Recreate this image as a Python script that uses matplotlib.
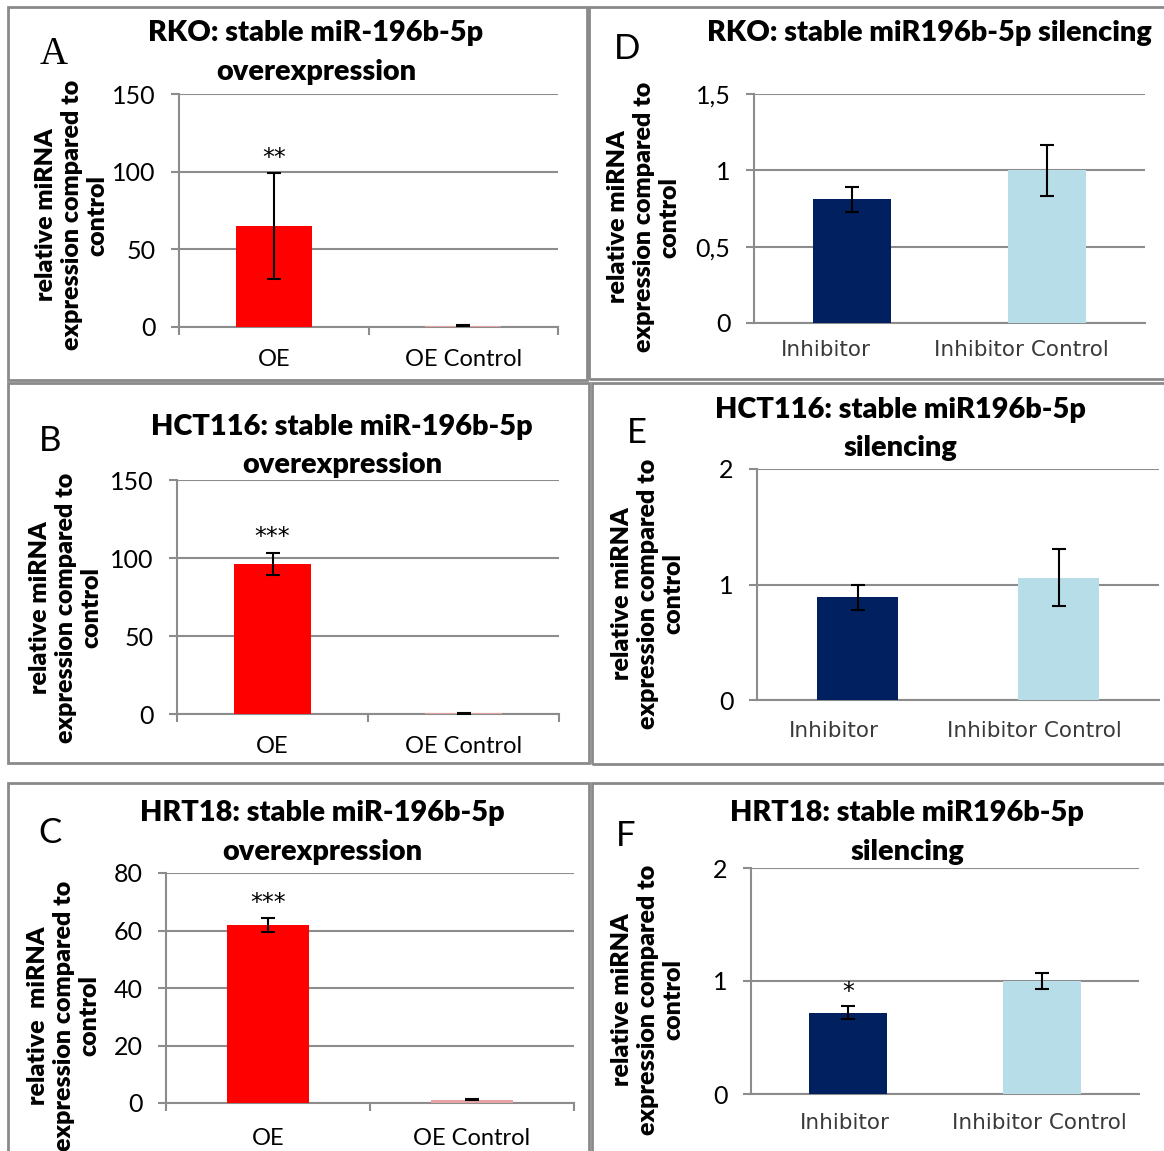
import matplotlib
matplotlib.use('Agg')
import matplotlib.pyplot as plt
from matplotlib.patches import Rectangle
from matplotlib.transforms import Affine2D

W, H = 1164, 1151

# categories
oe_groups = ['OE', 'OE Control']
inh_groups = ['Inhibitor', 'Inhibitor Control']

# overexpression panels (A, B, C)
rko_oe = [64.9, 0.9]
rko_oe_err = [34.3, 0.3]
hct_oe = [96.2, 0.6]
hct_oe_err = [7.3, 0.3]
hrt_oe = [61.9, 1.2]
hrt_oe_err = [2.5, 0.3]

# silencing panels (D, E, F)
rko_inh = [0.81, 1.0]
rko_inh_err = [0.08, 0.166]
hct_inh = [0.89, 1.06]
hct_inh_err = [0.11, 0.245]
hrt_inh = [0.72, 1.0]
hrt_inh_err = [0.055, 0.075]

# significance marks
rko_oe_sig = ['**', '']
hct_oe_sig = ['***', '']
hrt_oe_sig = ['***', '']
hrt_inh_sig = ['*', '']

ylab = 'relative miRNA\nexpression compared to\ncontrol'
ylab_c = 'relative  miRNA\nexpression compared to\ncontrol'

OE_COLORS = ['#ff0000', '#e6a3a3']
INH_COLORS = ['#002060', '#b7dde8']
GRID = '#8c8c8c'
BOX = '#8a8a8a'

plt.rcParams['font.family'] = ['Lato', 'DejaVu Sans']

fig = plt.figure(figsize=(W / 100, H / 100), dpi=100)


def fx(x):
    return x / W


def fy(y):
    return 1 - y / H


def add_box(l, t, r, b):
    fig.add_artist(Rectangle((fx(l), fy(b)), fx(r - l), (b - t) / H, transform=fig.transFigure,
                             fill=False, edgecolor=BOX, linewidth=2, clip_on=False))


def draw_panel(pos, vals, errs, groups, colors, ymax, yticks, yticklabels, kind, sig, xpad, xshift=0):
    l, t, r, b = pos
    ax = fig.add_axes([fx(l), fy(b), fx(r - l), (b - t) / H])
    x = [0, 1]
    ax.bar(x, vals, width=0.4, color=colors, zorder=3)
    ax.errorbar(x, vals, yerr=errs, fmt='none', ecolor='black', elinewidth=1.5,
                capsize=5, capthick=1.5, zorder=4)
    for xi, v, e, s in zip(x, vals, errs, sig):
        if s:
            ax.text(xi, v + e + ymax * 0.065, s, ha='center', va='center',
                    fontsize=17, family='DejaVu Sans', zorder=5)
    ax.set_xlim(-0.5, 1.5)
    ax.set_ylim(0, ymax)
    ax.set_yticks(yticks)
    ax.set_yticklabels(yticklabels, fontsize=18)
    ax.tick_params(axis='y', length=6, width=1.5, color=GRID, pad=11)
    ax.yaxis.grid(True, color=GRID, linewidth=1.5, zorder=0)
    ax.set_axisbelow(True)
    for sp in ['top', 'right']:
        ax.spines[sp].set_visible(False)
    for sp in ['left', 'bottom']:
        ax.spines[sp].set_color(GRID)
        ax.spines[sp].set_linewidth(1.5)
    ax.set_xticks(x)
    if kind == 'oe':
        ax.set_xticklabels(groups, fontsize=17)
        ax.set_xticks([-0.5, 0.5, 1.5], minor=True)
        ax.tick_params(axis='x', which='minor', length=6, width=1.5, color=GRID)
        ax.tick_params(axis='x', which='major', length=0, pad=xpad)
    else:
        ax.set_xticklabels(groups, fontsize=15.5, family='DejaVu Sans', color='#3a3a3a')
        ax.tick_params(axis='x', which='major', length=0, pad=xpad)
        if xshift:
            for lab in ax.get_xticklabels():
                lab.set_transform(lab.get_transform() + Affine2D().translate(xshift, 0))
    return ax


# panel borders
add_box(8, 7, 587, 380)
add_box(589, 7, 1172, 379)
add_box(8, 383, 589, 763)
add_box(592, 383, 1172, 764)
add_box(8, 783, 589, 1160)
add_box(592, 783, 1172, 1160)

# A
draw_panel((179, 94, 558, 327), rko_oe, rko_oe_err, oe_groups, OE_COLORS, 150,
           [0, 50, 100, 150], ['0', '50', '100', '150'], 'oe', rko_oe_sig, 16)
# B
draw_panel((177, 480, 559, 714), hct_oe, hct_oe_err, oe_groups, OE_COLORS, 150,
           [0, 50, 100, 150], ['0', '50', '100', '150'], 'oe', hct_oe_sig, 16)
# C
draw_panel((166, 873, 574, 1103), hrt_oe, hrt_oe_err, oe_groups, OE_COLORS, 80,
           [0, 20, 40, 60, 80], ['0', '20', '40', '60', '80'], 'oe', hrt_oe_sig, 18)
# D
draw_panel((754, 94, 1145, 323), rko_inh, rko_inh_err, inh_groups, INH_COLORS, 1.5,
           [0, 0.5, 1, 1.5], ['0', '0,5', '1', '1,5'], 'inh', ['', ''], 12, -26)
# E
draw_panel((757, 469, 1159, 700), hct_inh, hct_inh_err, inh_groups, INH_COLORS, 2,
           [0, 1, 2], ['0', '1', '2'], 'inh', ['', ''], 15, -24)
# F
draw_panel((751, 868, 1139, 1094), hrt_inh, hrt_inh_err, inh_groups, INH_COLORS, 2,
           [0, 1, 2], ['0', '1', '2'], 'inh', hrt_inh_sig, 14, -3)

# titles
titles = [
    (316, [33, 72], ['RKO: stable miR-196b-5p', 'overexpression']),
    (929, [33], ['RKO: stable miR196b-5p silencing']),
    (342, [427, 465], ['HCT116: stable miR-196b-5p', 'overexpression']),
    (900, [410, 448], ['HCT116: stable miR196b-5p', 'silencing']),
    (322, [813, 852], ['HRT18: stable miR-196b-5p', 'overexpression']),
    (907, [813, 852], ['HRT18: stable miR196b-5p', 'silencing']),
]
for cx, ys, lines in titles:
    for yy, line in zip(ys, lines):
        fig.text(fx(cx), fy(yy), line, ha='center', va='center', fontsize=20.8, fontweight='heavy')

# y labels
ylabels = [(72, 215, ylab), (644, 217, ylab), (66, 608, ylab),
           (648, 594, ylab), (64, 1016, ylab_c), (648, 1000, ylab)]
for cx, cy, txt in ylabels:
    fig.text(fx(cx), fy(cy), txt, rotation=90, ha='center', va='center', multialignment='center',
             fontsize=18, fontweight='heavy', linespacing=1.2)

# panel letters
fig.text(fx(54), fy(54), 'A', ha='center', va='center', fontsize=28, family='Liberation Serif')
for cx, cy, letter in [(627, 49, 'D'), (50, 441, 'B'), (637, 433, 'E'), (50, 833, 'C'), (626, 836, 'F')]:
    fig.text(fx(cx), fy(cy), letter, ha='center', va='center', fontsize=25)

fig.savefig('out.png', dpi=100)
